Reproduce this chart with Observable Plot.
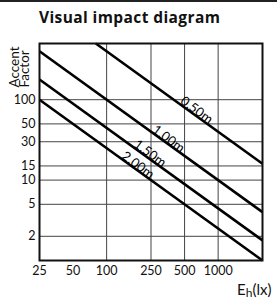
<!DOCTYPE html>
<html>
<head>
<meta charset="utf-8">
<script src="https://cdn.jsdelivr.net/npm/d3@7"></script>
<script src="https://cdn.jsdelivr.net/npm/@observablehq/plot@0.6"></script>
<style>
  html, body { margin: 0; padding: 0; background: #fff; }
  #wrap { position: relative; width: 277px; height: 299px; overflow: hidden; font-family: Lato, "Open Sans", sans-serif; color: #111; }
  #topline { position: absolute; left: 0; top: 0; width: 277px; height: 2px; background: #222; }
  #title { position: absolute; left: 39px; top: 7px; font-family: "Open Sans", Lato, sans-serif; font-weight: bold; font-size: 15.5px; letter-spacing: 0.4px; line-height: 20px; white-space: nowrap; }
  #xlabel { position: absolute; left: 237px; top: 281px; font-size: 15px; white-space: nowrap; line-height: 17px; }
  #xlabel sub { font-size: 12px; vertical-align: -2px; }
  #chart { position: absolute; left: 0; top: 0; }
</style>
</head>
<body>
<div id="wrap">
  <div id="chart"></div>
  <div id="topline"></div>
  <div id="title">Visual impact diagram</div>
  <div id="xlabel">E<sub>h</sub>(lx)</div>
</div>
<script>
// Distance series (lines of constant visual impact), endpoints
const distances = ["0.50m", "1.00m", "1.50m", "2.00m"];
const startE = [80, 25, 25, 25];
const startF = [500, 400, 178, 100];
const endE = [2500, 2500, 2500, 2500];
const endF = [16, 4, 1.78, 1];

// Label anchor points (data coordinates)
const labelE = [641, 359, 245, 191];
const labelF = [74, 32.5, 21.5, 15.3];

// Ticks and grid
const xTicks = [25, 50, 100, 250, 500, 1000];
const yTicks = [2, 5, 10, 15, 30, 50, 100];
const xGrid = [100, 250, 500, 1000];
const yGrid = [2, 5, 10, 15, 30, 50, 100];

const yLabel = ["Accent\nFactor"];

const segs = distances.map((d, i) => ({d, x1: startE[i], y1: startF[i], x2: endE[i], y2: endF[i]}));
const labels = distances.map((d, i) => ({d, x: labelE[i], y: labelF[i]}));

const chart = Plot.plot({
  width: 277,
  height: 299,
  marginLeft: 39,
  marginRight: 15,
  marginTop: 43,
  marginBottom: 39,
  style: {fontFamily: "Lato, 'Open Sans', sans-serif", fontSize: "12.5px", color: "#111", background: "transparent"},
  x: {type: "log", domain: [25, 2500], axis: null},
  y: {type: "log", domain: [1, 500], axis: null},
  marks: [
    Plot.ruleX(xGrid, {stroke: "#444", strokeWidth: 1}),
    Plot.ruleY(yGrid, {stroke: "#444", strokeWidth: 1}),
    Plot.link(segs, {x1: "x1", y1: "y1", x2: "x2", y2: "y2", stroke: "#000", strokeWidth: 2.6}),
    Plot.frame({stroke: "#111", strokeWidth: 2}),
    // tick labels drawn through the scales
    Plot.text(xTicks, {x: d => d, frameAnchor: "bottom", lineAnchor: "top", dy: 6, text: d => String(d), fontSize: 12.5, fill: "#111"}),
    Plot.text(yTicks, {y: d => d, frameAnchor: "left", textAnchor: "end", dx: -4, text: d => String(d), fontSize: 12.5, fill: "#111"}),
    Plot.text(labels, {x: "x", y: "y", text: "d", rotate: 36.2, fontSize: 13, fill: "#000", textAnchor: "middle", lineAnchor: "middle"}),
    Plot.text(yLabel, {frameAnchor: "top-left", text: d => d, rotate: -90, textAnchor: "start", lineAnchor: "top", lineHeight: 0.75, dx: -28, dy: 44, fontSize: 13.5, fill: "#111"})
  ]
});
document.getElementById("chart").appendChild(chart);
</script>
</body>
</html>
